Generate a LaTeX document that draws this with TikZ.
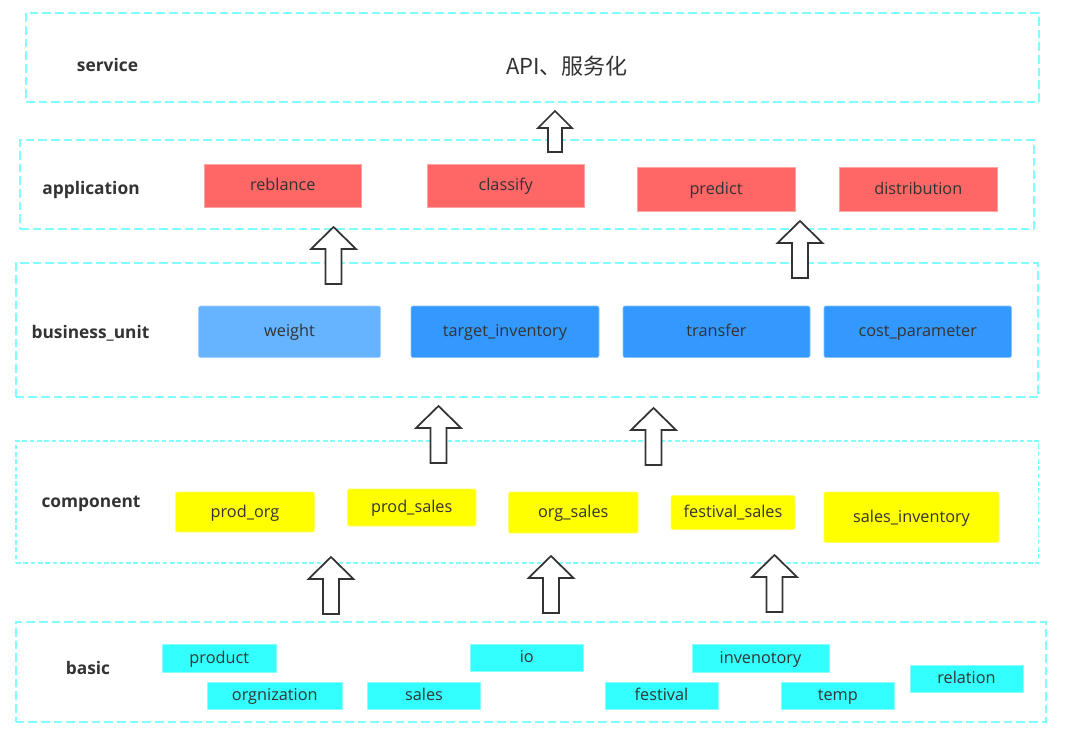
\documentclass[tikz,border=0pt]{standalone}
\usepackage{fontspec}
\setmainfont{Open Sans}
\newfontfamily\cjk{Noto Sans CJK SC}
\definecolor{dashc}{HTML}{80FFFF}
\definecolor{txt}{HTML}{333333}
\definecolor{redc}{HTML}{FF6666}
\definecolor{lblue}{HTML}{66B3FF}
\definecolor{bluec}{HTML}{3399FF}
\definecolor{yelc}{HTML}{FFFF00}
\definecolor{cyanc}{HTML}{33FFFF}
\tikzset{
  layer/.style={draw=dashc, line width=1.5pt, dash pattern=on 6.5pt off 3pt, inner sep=0pt, outer sep=0pt},
  thinlayer/.style={draw=dashc, line width=0.8pt, dash pattern=on 3.5pt off 2pt, inner sep=0pt, outer sep=0pt},
  boxbase/.style={inner sep=0pt, outer sep=0pt, text=txt, font=\fontsize{12.2}{14}\selectfont, text height=0.85em, text depth=0.1em},
  redbox/.style={boxbase, fill=redc, draw=redc!60!white, line width=0.4pt},
  lbluebox/.style={boxbase, fill=lblue, draw=lblue!60!white, line width=0.4pt, rounded corners=1.5pt},
  bluebox/.style={boxbase, fill=bluec, draw=bluec!60!white, line width=0.4pt, rounded corners=1.5pt},
  yelbox/.style={boxbase, fill=yelc, draw=yelc!60!white, line width=0.4pt, rounded corners=1.5pt},
  cyanbox/.style={boxbase, fill=cyanc, draw=cyanc!60!white, line width=0.4pt},
  lbl/.style={text=txt, font=\fontsize{13}{15}\selectfont\bfseries, text height=0.85em, text depth=0.05em},
  arrowst/.style={draw=txt, fill=white, line width=1.3pt, line join=miter},
  bigup/.pic={\draw[arrowst] (-8,0) -- (-8,-35) -- (-22.5,-35) -- (0,-57) -- (22.5,-35) -- (8,-35) -- (8,0) -- cycle;},
  smallup/.pic={\draw[arrowst] (-7,0) -- (-7,-24) -- (-17,-24) -- (0,-41) -- (17,-24) -- (7,-24) -- (7,0) -- cycle;}
}
\newcommand\bx[7]{\node[#6, minimum width={(#4-#2)*0.75pt}, minimum height={(#5-#3)*0.75pt}] (#1) at ({(#2+#4)/2},{(#3+#5)/2}) {#7};}
\begin{document}
\begin{tikzpicture}[x=0.75pt, y=-0.75pt]
\useasboundingbox[fill=white] (0,0) rectangle (1091,753);
% layers
\bx{service}{26}{13}{1039}{102}{layer}{}
\bx{application}{20}{140}{1034}{229}{layer}{}
\bx{business}{15.5}{263}{1038}{397}{layer}{}
\bx{component}{16}{441}{1038.5}{563}{thinlayer}{}
\bx{basic}{15.5}{622}{1045.5}{722}{layer}{}
% labels
\node[lbl] (lservice) at (107.5,66) {service};
\node[lbl] (lapp) at (91,189) {application};
\node[lbl] (lbus) at (90.5,333) {business\_unit};
\node[lbl] (lcomp) at (91,502) {component};
\node[lbl] (lbasic) at (88,669) {basic};
\node[text=txt, font=\cjk\fontsize{16.5}{18}\selectfont] (api) at (567,66) {API、服务化};
% application
\bx{reblance}{204}{164}{361.5}{207}{redbox}{reblance}
\bx{classify}{427}{164}{584.5}{207}{redbox}{classify}
\bx{predict}{637}{167.5}{795}{211}{redbox}{predict}
\bx{distribution}{839}{167.5}{997.5}{211}{redbox}{distribution}
% business
\bx{weight}{198.5}{306}{380.5}{357.5}{lbluebox}{weight}
\bx{target}{411}{306}{599}{357.5}{bluebox}{target\_inventory}
\bx{transfer}{623}{306}{810}{357.5}{bluebox}{transfer}
\bx{cost}{824}{306}{1011.5}{357.5}{bluebox}{cost\_parameter}
% component
\bx{prodorg}{175.5}{492}{314.5}{532}{yelbox}{prod\_org}
\bx{prodsales}{347.5}{489}{476}{526}{yelbox}{prod\_sales}
\bx{orgsales}{508.5}{492}{638}{533}{yelbox}{org\_sales}
\bx{festsales}{671}{495.5}{795}{529.5}{yelbox}{festival\_sales}
\bx{salesinv}{824}{492}{999}{542.5}{yelbox}{sales\_inventory}
% basic
\bx{product}{162}{644}{276.5}{672}{cyanbox}{product}
\bx{orgnization}{207}{682}{342.5}{709}{cyanbox}{orgnization}
\bx{sales}{367.5}{682}{480.5}{709}{cyanbox}{sales}
\bx{io}{470.5}{644}{583}{671}{cyanbox}{io}
\bx{festival}{605}{682}{718}{709}{cyanbox}{festival}
\bx{invenotory}{692}{644}{829}{672}{cyanbox}{invenotory}
\bx{temp}{781.5}{682}{894}{709}{cyanbox}{temp}
\bx{relation}{910}{665.5}{1023}{692}{cyanbox}{relation}
% arrows
\pic at (555,152) {smallup};
\pic at (333.5,284) {bigup};
\pic at (800,278) {bigup};
\pic at (438.5,463) {bigup};
\pic at (653.5,465) {bigup};
\pic at (331,614) {bigup};
\pic at (551,613) {bigup};
\pic at (774.5,612) {bigup};
\end{tikzpicture}
\end{document}
